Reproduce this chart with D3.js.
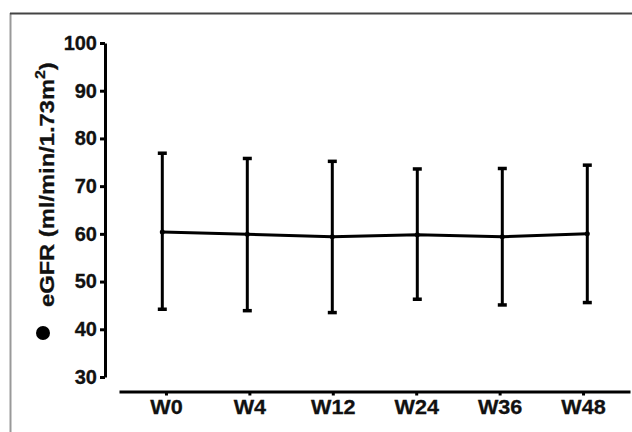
<!DOCTYPE html>
<html>
<head>
<meta charset="utf-8">
<script src="https://cdn.jsdelivr.net/npm/d3@7/dist/d3.min.js"></script>
<style>
  body { margin: 0; background: #fff; }
  svg text { font-family: Arial, "Liberation Sans", sans-serif; font-weight: bold; fill: #111; stroke: #111; stroke-width: 0.3; }
</style>
</head>
<body>
<script>
// weeks and eGFR values
const weeks = ['W0', 'W4', 'W12', 'W24', 'W36', 'W48']
const means = [60.4, 59.9, 59.4, 59.8, 59.4, 60.0]
const upper = [76.9, 75.8, 75.2, 73.6, 73.7, 74.4]
const lower = [44.2, 43.9, 43.5, 46.3, 45.1, 45.6]
const yTicks = [30, 40, 50, 60, 70, 80, 90, 100]

const fullWidth = 632
const fullHeight = 432

const data = weeks.map((w, i) => ({ week: w, mean: means[i], hi: upper[i], lo: lower[i] }))

const svg = d3.select('body')
  .append('svg')
  .attr('width', fullWidth)
  .attr('height', fullHeight)

// frame around the figure (top + left edge only visible)
svg.append('line')
  .attr('x1', 10.5).attr('x2', 10.5)
  .attr('y1', 13).attr('y2', fullHeight)
  .attr('stroke', '#999')
  .attr('stroke-width', 2)

svg.append('line')
  .attr('x1', 10).attr('x2', fullWidth)
  .attr('y1', 13.5).attr('y2', 13.5)
  .attr('stroke', '#444')
  .attr('stroke-width', 2)

const y = d3.scaleLinear()
  .domain([30, 100])
  .range([377, 43])

// axis ticks and plotted points are slightly offset in the original figure
const xAxisScale = d3.scalePoint()
  .domain(weeks)
  .range([119, 630])
  .padding(0.563)

const x = d3.scalePoint()
  .domain(weeks)
  .range([162.3, 587.3])

// y axis
const yAxis = svg.append('g')
  .attr('transform', 'translate(105,0)')
  .call(d3.axisLeft(y).tickValues(yTicks).tickSize(5).tickPadding(3).tickSizeOuter(0))

yAxis.select('.domain').attr('stroke', '#000').attr('stroke-width', 3)
yAxis.selectAll('.tick line').attr('stroke', '#000').attr('stroke-width', 3)
yAxis.selectAll('.tick text')
  .attr('font-size', 20)
  .attr('fill', '#111')

// x axis
const xAxis = svg.append('g')
  .attr('transform', 'translate(0,391.5)')
  .call(d3.axisBottom(xAxisScale).tickSize(4).tickPadding(4.5).tickSizeOuter(0))

xAxis.select('.domain').attr('stroke', '#000').attr('stroke-width', 3)
xAxis.selectAll('.tick line').attr('stroke', '#000').attr('stroke-width', 3)
xAxis.selectAll('.tick text')
  .attr('font-size', 20)
  .attr('transform', 'scale(1.08,1)')
  .attr('fill', '#111')

// y title, with the round marker in front of it
svg.append('circle')
  .attr('cx', 43)
  .attr('cy', 333)
  .attr('r', 7)
  .attr('fill', '#000')

const title = svg.append('text')
  .attr('transform', 'translate(54,307) rotate(-90) scale(1.13,1)')
  .attr('text-anchor', 'start')
  .attr('font-size', 21)

title.append('tspan').text('eGFR (ml/min/1.73m')
title.append('tspan').attr('font-size', 14).attr('dy', -9).text('2')
title.append('tspan').attr('dy', 9).text(')')

// error bars
const bars = svg.append('g')
  .selectAll('g')
  .data(data)
  .enter().append('g')

bars.append('line')
  .attr('x1', d => x(d.week))
  .attr('x2', d => x(d.week))
  .attr('y1', d => y(d.hi))
  .attr('y2', d => y(d.lo))
  .attr('stroke', '#000')
  .attr('stroke-width', 3)

bars.append('line')
  .attr('x1', d => x(d.week) - 4.5)
  .attr('x2', d => x(d.week) + 4.5)
  .attr('y1', d => y(d.hi))
  .attr('y2', d => y(d.hi))
  .attr('stroke', '#000')
  .attr('stroke-width', 3.5)

bars.append('line')
  .attr('x1', d => x(d.week) - 4.5)
  .attr('x2', d => x(d.week) + 4.5)
  .attr('y1', d => y(d.lo))
  .attr('y2', d => y(d.lo))
  .attr('stroke', '#000')
  .attr('stroke-width', 3.5)

// mean line
const line = d3.line()
  .x(d => x(d.week))
  .y(d => y(d.mean))

svg.append('path')
  .datum(data)
  .attr('d', line)
  .attr('fill', 'none')
  .attr('stroke', '#000')
  .attr('stroke-width', 3)

svg.append('g')
  .selectAll('circle')
  .data(data)
  .enter().append('circle')
  .attr('cx', d => x(d.week))
  .attr('cy', d => y(d.mean))
  .attr('r', 2.5)
  .attr('fill', '#000')
</script>
</body>
</html>
